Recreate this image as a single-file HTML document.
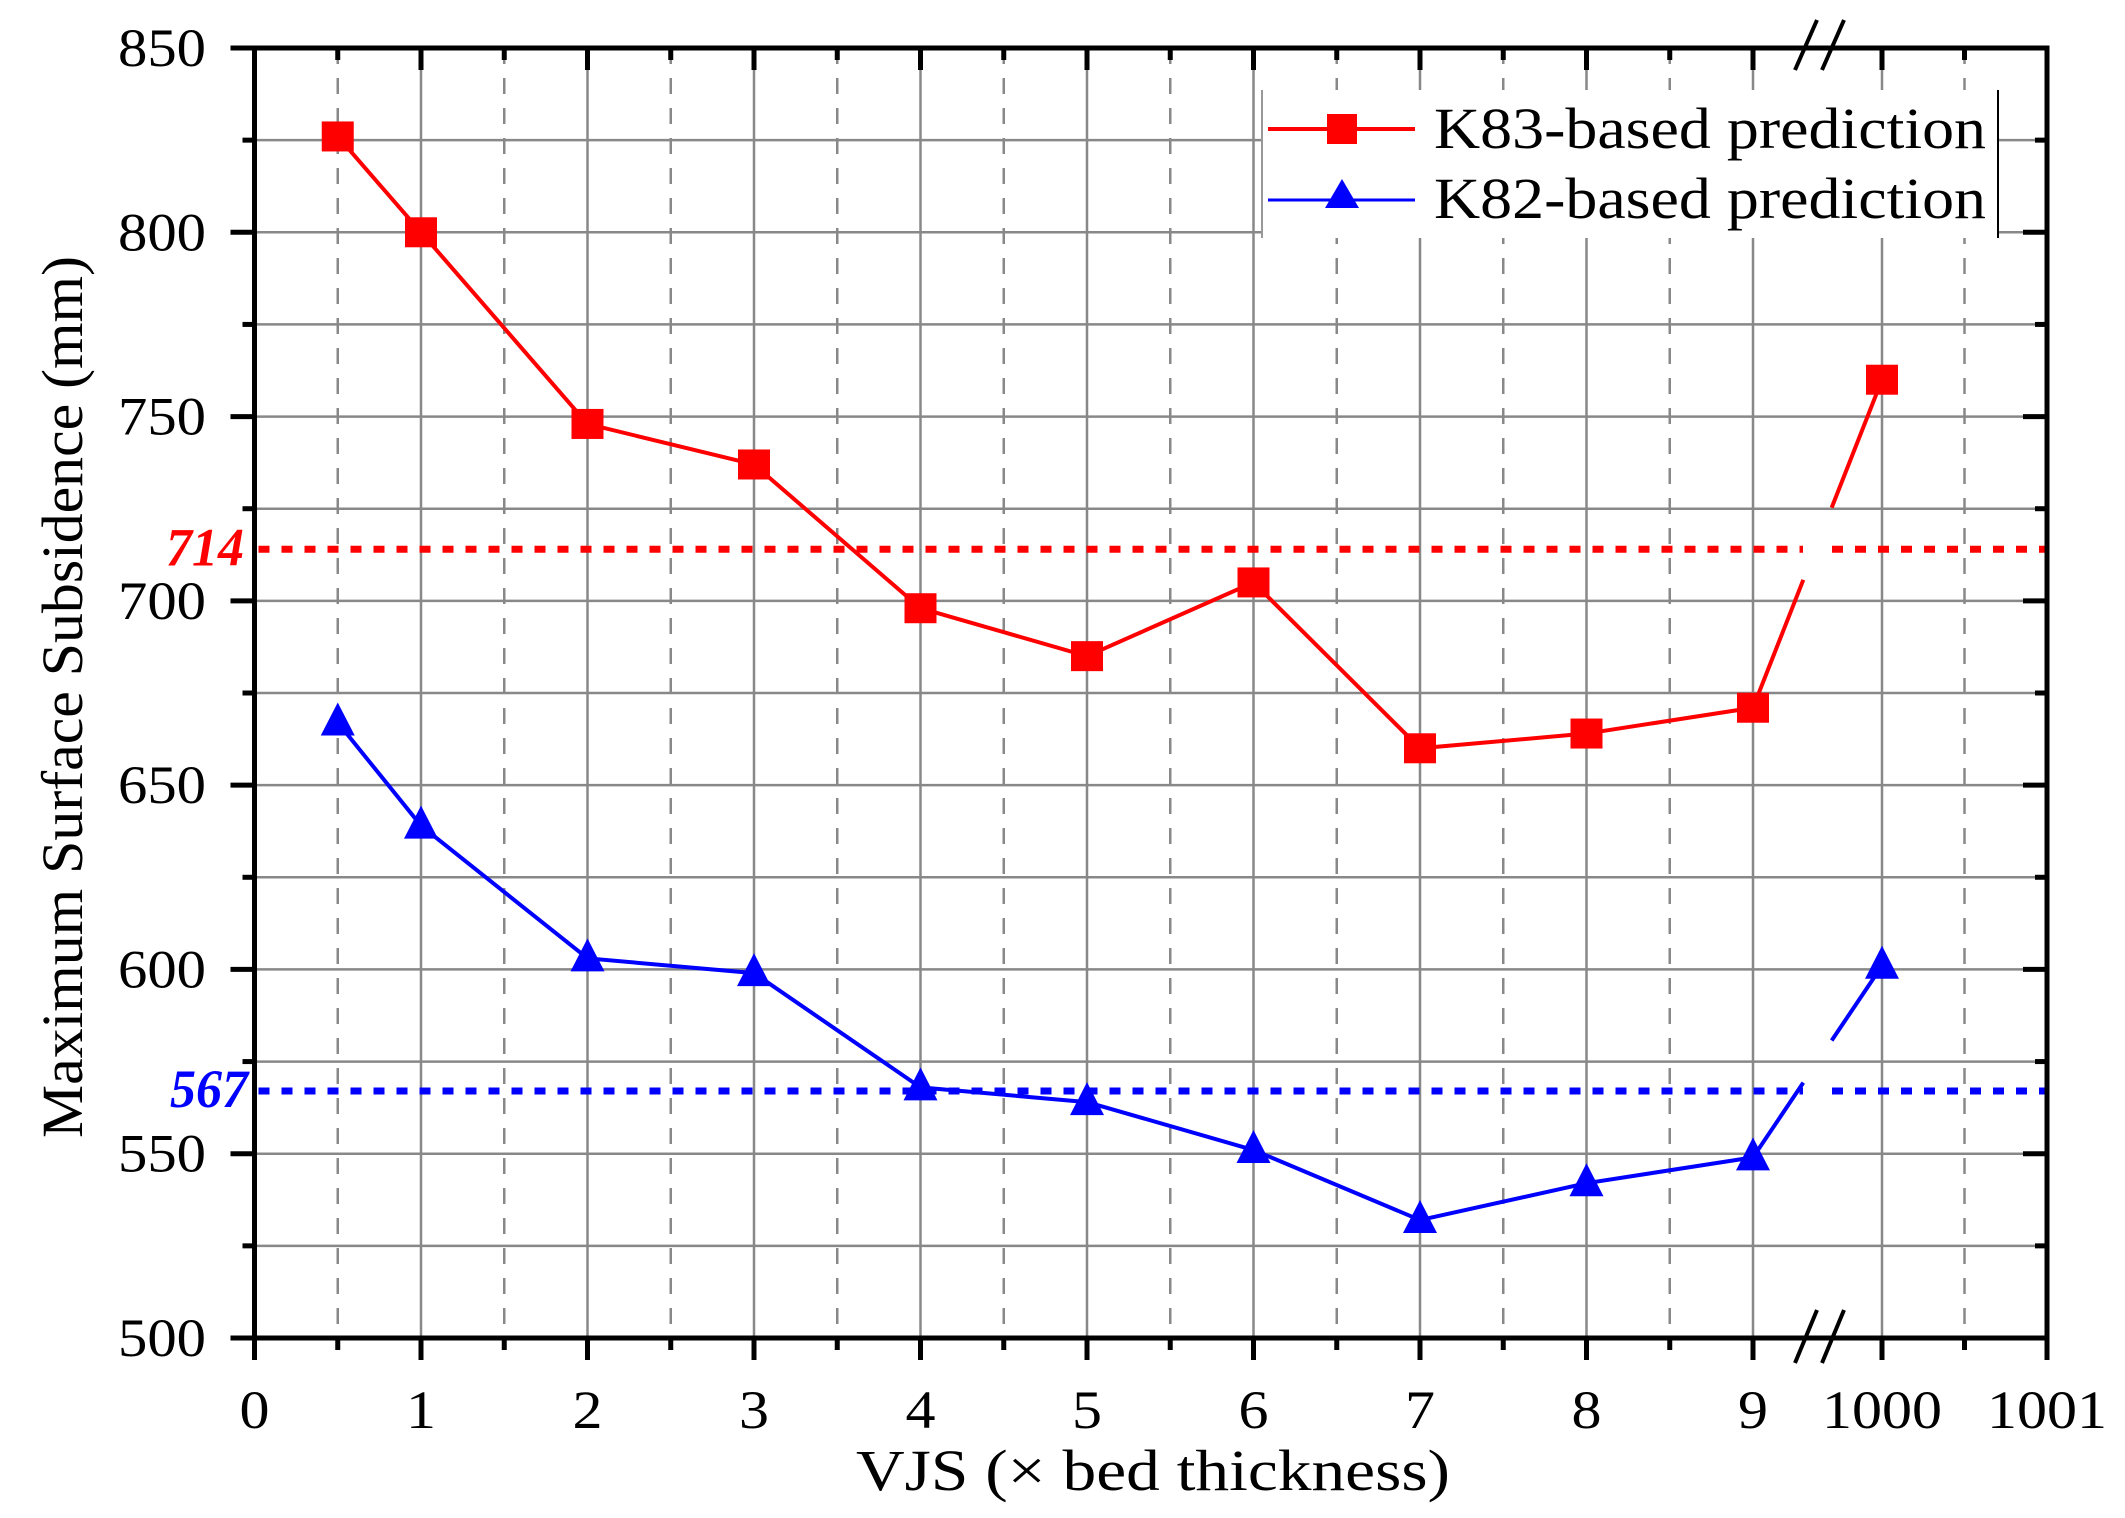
<!DOCTYPE html>
<html><head><meta charset="utf-8"><style>html,body{margin:0;padding:0;background:#fff}svg{display:block}svg text{font-family:"Liberation Serif","Times New Roman",serif}</style></head>
<body>
<svg width="2125" height="1518" viewBox="0 0 2125 1518" xmlns="http://www.w3.org/2000/svg">
<rect width="2125" height="1518" fill="#fff"/>
<script>
(function(){
const NS="http://www.w3.org/2000/svg";
const svg=document.currentScript.parentNode;
function el(n,a,t){const e=document.createElementNS(NS,n);for(const k in a)e.setAttribute(k,a[k]);if(t!==undefined)e.textContent=t;if(n==='text')e.style.fontFamily='"Liberation Serif", serif';svg.appendChild(e);return e;}
const L=254.5,R=2047,T=48,B=1338;
const X=v=>v<=9?L+v*166.5:1882+(v-1000)*165;
const Y=v=>T+(850-v)*(B-T)/350;
for(let v=525;v<850;v+=25) el('line',{x1:L,x2:R,y1:Y(v),y2:Y(v),stroke:'#888','stroke-width':2.5});
[1,2,3,4,5,6,7,8,9,1000].forEach(v=>el('line',{x1:X(v),x2:X(v),y1:T,y2:B,stroke:'#888','stroke-width':2.5}));
[0.5,1.5,2.5,3.5,4.5,5.5,6.5,7.5,8.5,1000.5].forEach(v=>el('line',{x1:X(v),x2:X(v),y1:T,y2:B,stroke:'#888','stroke-width':2.5,'stroke-dasharray':'16 14'}));
function ref(v,c){const y=Y(v);
 el('line',{x1:L+4,x2:1803,y1:y,y2:y,stroke:c,'stroke-width':7,'stroke-dasharray':'11 12'});
 el('line',{x1:1832,x2:R,y1:y,y2:y,stroke:c,'stroke-width':7,'stroke-dasharray':'11 12'});}
ref(714,'#f00');ref(567,'#00f');
el('rect',{x:L,y:T,width:R-L,height:B-T,fill:'none',stroke:'#000','stroke-width':5});
for(let v=500;v<=850;v+=25){const maj=v%50==0;const y=Y(v);
 el('line',{x1:L-(maj?24:12),x2:L,y1:y,y2:y,stroke:'#000','stroke-width':5});
 el('line',{x1:R,x2:R-(maj?24:12),y1:y,y2:y,stroke:'#000','stroke-width':5});
 if(maj) el('text',{x:206,y:y+18,'text-anchor':'end','font-size':54,textLength:88,lengthAdjust:'spacingAndGlyphs'},v);
}
[0,1,2,3,4,5,6,7,8,9,1000,1001].forEach(v=>{const x=X(v);
 el('line',{x1:x,x2:x,y1:B,y2:B+22,stroke:'#000','stroke-width':5});
 el('line',{x1:x,x2:x,y1:T,y2:T+22,stroke:'#000','stroke-width':5});
 const s=String(v);
 el('text',{x:x,y:1428,'text-anchor':'middle','font-size':54,textLength:s.length*30,lengthAdjust:'spacingAndGlyphs'},s);
});
[0.5,1.5,2.5,3.5,4.5,5.5,6.5,7.5,8.5,1000.5].forEach(v=>{const x=X(v);
 el('line',{x1:x,x2:x,y1:B,y2:B+12,stroke:'#000','stroke-width':5});
 el('line',{x1:x,x2:x,y1:T,y2:T+12,stroke:'#000','stroke-width':5});});
[[B+25,B-28],[T+22,T-28]].forEach(([y1,y2])=>{
 [1795,1822].forEach(x=>el('line',{x1:x,y1:y1,x2:x+22,y2:y2,stroke:'#000','stroke-width':4}));});
el('text',{x:244,y:Y(714)+16,'text-anchor':'end','font-size':54,'font-style':'italic','font-weight':'bold',fill:'#f00',textLength:78,lengthAdjust:'spacingAndGlyphs'},'714');
el('text',{x:248,y:Y(567)+16,'text-anchor':'end','font-size':54,'font-style':'italic','font-weight':'bold',fill:'#00f',textLength:78,lengthAdjust:'spacingAndGlyphs'},'567');
function series(d,c,mk){
 const pts=d.map(([x,y])=>[X(x),Y(y)]);
 const main=pts.slice(0,10).map(p=>p.join(',')).join(' ');
 el('polyline',{points:main,fill:'none',stroke:c,'stroke-width':4});
 const a=pts[9],b=pts[10];const lerp=t=>[a[0]+(b[0]-a[0])*t,a[1]+(b[1]-a[1])*t];
 const p1=lerp(0.39),p2=lerp(0.61);
 el('line',{x1:a[0],y1:a[1],x2:p1[0],y2:p1[1],stroke:c,'stroke-width':4});
 el('line',{x1:p2[0],y1:p2[1],x2:b[0],y2:b[1],stroke:c,'stroke-width':4});
 pts.forEach(([x,y])=>{
  if(mk=='s') el('rect',{x:x-16,y:y-15,width:32,height:30,fill:c});
  else el('polygon',{points:`${x},${y-20} ${x-17},${y+13} ${x+17},${y+13}`,fill:c});
 });
}
series([[0.5,826],[1,800],[2,748],[3,737],[4,698],[5,685],[6,705],[7,660],[8,664],[9,671],[1000,760]],'#f00','s');
series([[0.5,667],[1,639],[2,603],[3,599],[4,568],[5,564],[6,551],[7,532],[8,542],[9,549],[1000,601]],'#00f','t');
el('rect',{x:1262,y:90,width:736,height:148,fill:'#fff'});
el('line',{x1:1262,x2:1262,y1:90,y2:238,stroke:'#999','stroke-width':2});
el('line',{x1:1998,x2:1998,y1:90,y2:238,stroke:'#000','stroke-width':2});
el('line',{x1:1268,x2:1415,y1:129,y2:129,stroke:'#f00','stroke-width':4});
el('rect',{x:1327,y:114,width:30,height:30,fill:'#f00'});
el('line',{x1:1268,x2:1415,y1:200,y2:200,stroke:'#00f','stroke-width':3});
el('polygon',{points:'1342,179 1325,208 1359,208',fill:'#00f'});
el('text',{x:1434,y:148,'font-size':58,textLength:552,lengthAdjust:'spacingAndGlyphs'},'K83-based prediction');
el('text',{x:1434,y:218,'font-size':58,textLength:552,lengthAdjust:'spacingAndGlyphs'},'K82-based prediction');
el('text',{x:1153,y:1490,'text-anchor':'middle','font-size':58,textLength:594,lengthAdjust:'spacingAndGlyphs'},'VJS (× bed thickness)');
el('text',{x:0,y:0,'text-anchor':'middle','font-size':58,textLength:882,lengthAdjust:'spacingAndGlyphs',transform:'translate(82,697) rotate(-90)'},'Maximum Surface Subsidence (mm)');
})();
</script>
</svg>
</body></html>
